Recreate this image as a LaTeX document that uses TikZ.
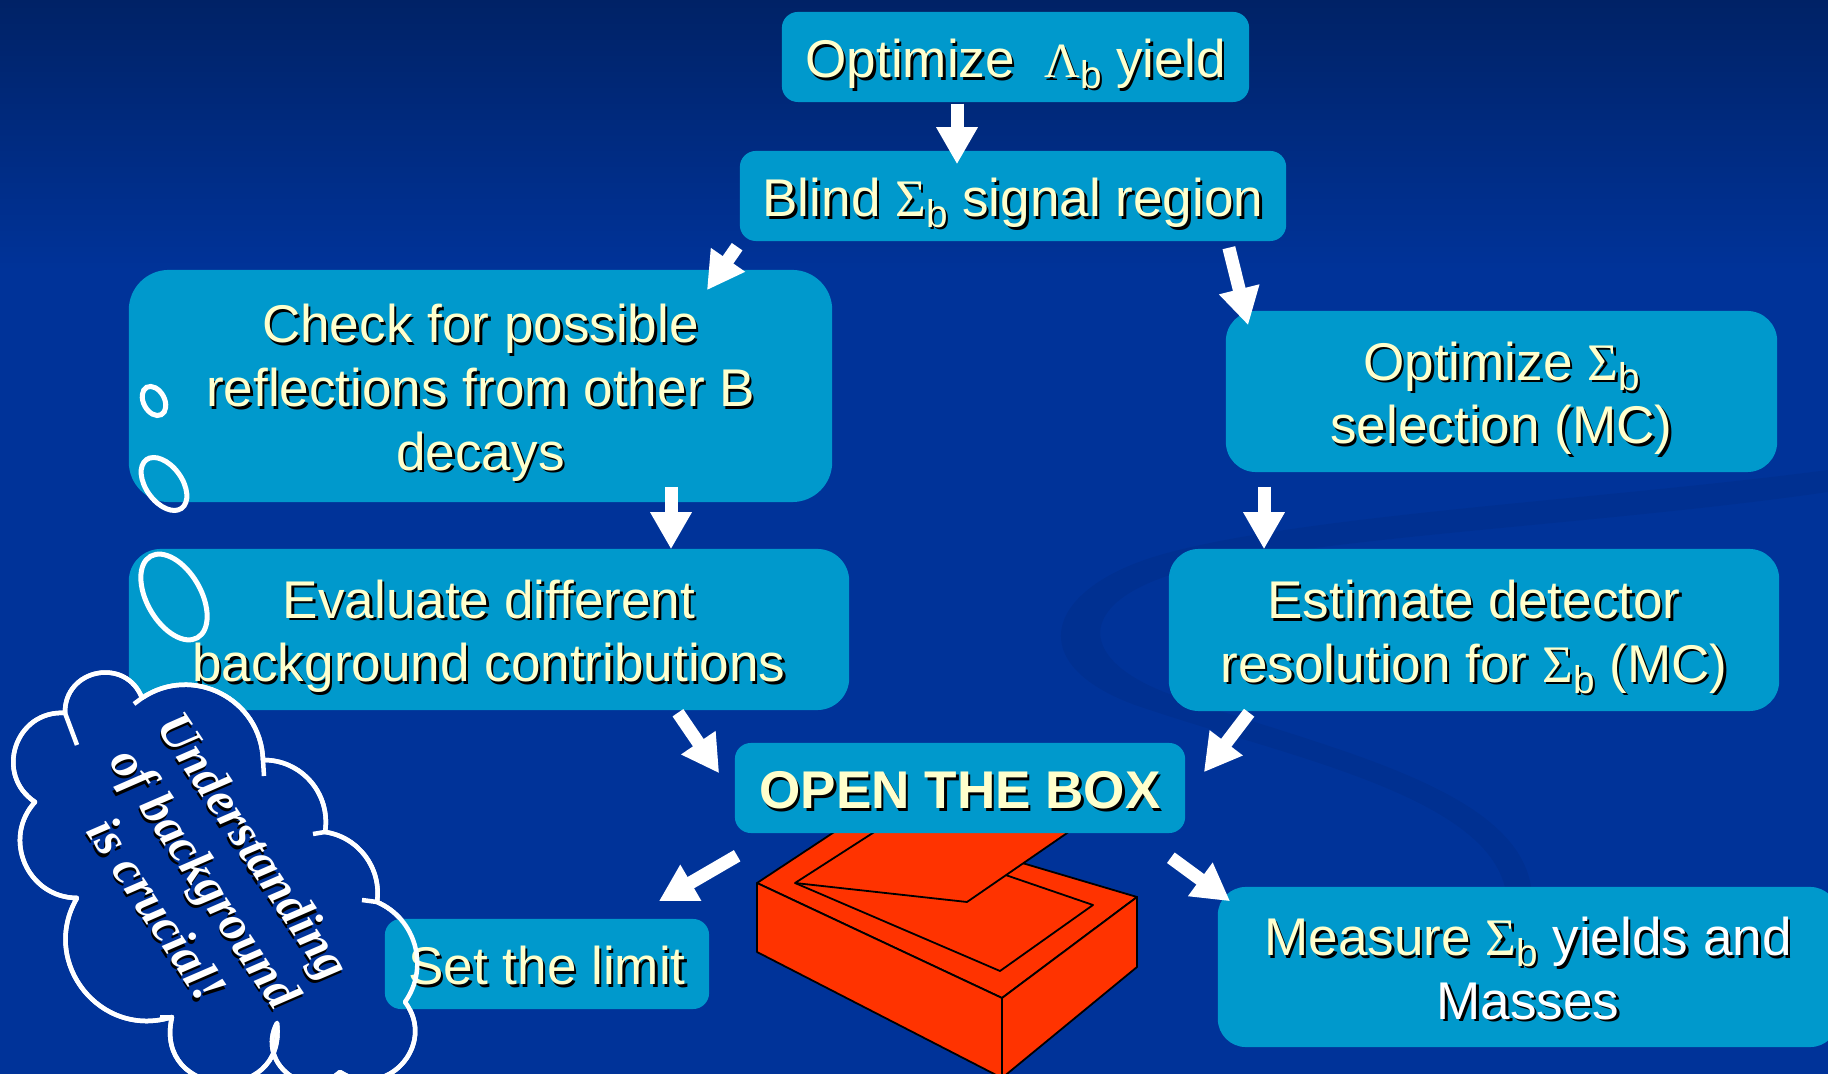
\documentclass[tikz,border=0pt]{standalone}
\usepackage{fontspec}
\setmainfont{Liberation Sans}
\newfontfamily\grkfont{Liberation Serif}
\newfontfamily\cloudfont{Liberation Serif}
\usetikzlibrary{arrows.meta,calc}

\definecolor{bgtop}{HTML}{002266}
\definecolor{bgmain}{HTML}{003399}
\definecolor{boxfill}{HTML}{0099CC}
\definecolor{txtyel}{HTML}{FFFFCC}
\definecolor{boxred}{HTML}{FF3300}

% text with a small black drop shadow
\newif\ifinshadow
\newcommand\sh[1]{\leavevmode\rlap{\kern0.7pt\raisebox{-0.7pt}{\inshadowtrue\color{black}#1}}#1}
\newcommand\wt[1]{\ifinshadow#1\else\textcolor{white}{#1}\fi}
\newcommand\Sg{{\grkfont\fontsize{15pt}{18pt}\selectfont Σ}}
\newcommand\Lm{{\grkfont\fontsize{14pt}{18pt}\selectfont Λ}}
\newcommand\sub[1]{\raisebox{-0.2em}{\fontsize{11pt}{12pt}\selectfont #1}}
\newcommand\boxfont{\fontsize{15.1pt}{18.1pt}\selectfont}
% struts that fix the height of the first and the depth of the last line
\newcommand\tp{\rule{0pt}{15.9pt}}
\newcommand\bt{\rule[-4.2pt]{0pt}{4.2pt}}

\tikzset{
  flow/.style={rectangle, fill=boxfill, rounded corners=#1, inner sep=0pt,
    align=center, text=txtyel, font=\boxfont},
  arr/.style={draw=white, line width=0.13cm,
    -{Triangle[length=0.37cm, width=0.39cm]}},
  cloudline/.style={draw=white, line width=0.045cm, line join=round},
  bubble/.style={draw=white, line width=0.05cm},
  cb/.code={\pgfmathsetmacro\cbl{1.7029/(1+cos(#1))}%
    \edef\cbtmp{\noexpand\pgfkeysalso{/tikz/bend left=#1,/tikz/looseness=\cbl}}\cbtmp},
}

\newcommand\cloudpath{(Q1) to[cb=80] (Q2) to[cb=61] (Q3) to[cb=50] (Q4)
  to[cb=45] (Q5) to[cb=51] (Q6) to[cb=80] (Q7) to[cb=80] (Q8)
  to[cb=100] (Q9) to[cb=69] (Q10) to[cb=66] (Q11) to[cb=75] (Q1)}

\begin{document}
\begin{tikzpicture}[x=0.01cm, y=-0.01cm]
\useasboundingbox (0,0) rectangle (1828,1074);

% background
\fill[bgmain] (0,0) rectangle (1828,1074);
\shade[top color=bgtop, bottom color=bgmain] (0,0) rectangle (1828,270);
\fill[black, opacity=0.05] (1507,900) .. controls (1500,800) and (1300,760) .. (1150,710)
  .. controls (1020,670) and (1040,590) .. (1160,555)
  .. controls (1300,515) and (1600,500) .. (1828,470) -- (1828,492)
  .. controls (1600,525) and (1310,537) .. (1180,572)
  .. controls (1075,602) and (1075,660) .. (1172,695)
  .. controls (1330,750) and (1532,790) .. (1532,900) -- cycle;

% the red box, lid opened
\begin{scope}[draw=black, line width=0.018cm, fill=boxred, line join=round]
  \filldraw (757,883) -- (1002,998) -- (1137,897) -- (860,815) -- cycle;
  \filldraw (757,883) -- (1002,998) -- (1002,1078) -- (757,952) -- cycle;
  \filldraw (1002,998) -- (1137,897) -- (1137,967) -- (1002,1078) -- cycle;
  \draw (795,883) -- (1000,971) -- (1093,905) -- (854,823);
  \filldraw (795,883) -- (967,902) -- (1086,820) -- (893,820) -- cycle;
\end{scope}

% flow boxes
\node[flow=0.16cm, minimum width=4.67cm, minimum height=0.90cm] (n1) at (1015.5,57)
  {\tp\sh{Optimize~~\Lm\sub{b} yield}\bt};
\node[flow=0.16cm, minimum width=5.46cm, minimum height=0.90cm] (n2) at (1013,196)
  {\tp\sh{Blind \Sg\sub{b} signal region}\bt};
\node[flow=0.40cm, minimum width=7.03cm, minimum height=2.32cm] (n3) at (480.5,386)
  {\tp\sh{Check for possible}\\\sh{reflections from other B}\\\sh{decays}\bt};
\node[flow=0.30cm, minimum width=5.51cm, minimum height=1.61cm] (n4) at (1501.5,391.5)
  {\tp\sh{Optimize \Sg\sub{b}}\\\sh{selection (MC)}\bt};
\node[flow=0.32cm, minimum width=7.20cm, minimum height=1.61cm] (n5) at (489,629.5)
  {\tp\sh{Evaluate different}\\\sh{background contributions}\bt};
\node[flow=0.30cm, minimum width=6.10cm, minimum height=1.62cm] (n6) at (1474,630)
  {\tp\sh{Estimate detector}\\\sh{resolution for \Sg\sub{b} (MC)}\bt};
\node[flow=0.16cm, minimum width=4.50cm, minimum height=0.90cm] (n7) at (960,788)
  {\tp\sh{\bfseries OPEN THE BOX}\bt};
\node[flow=0.28cm, minimum width=6.20cm, minimum height=1.60cm] (n9) at (1528,967)
  {\tp\sh{Measure \Sg\sub{b} \wt{yields and}}\\\sh{\wt{Masses}}\bt};

% thought bubbles
\draw[bubble, rotate around={28:(154,401)}] (154,401) ellipse [x radius=10.5, y radius=15.5];
\draw[bubble, rotate around={36:(164,484)}] (164,484) ellipse [x radius=18, y radius=30];
\draw[bubble, rotate around={30:(174,597)}] (174,597) ellipse [x radius=27, y radius=47];

% cloud
\coordinate (Q1) at (65,713);
\coordinate (Q2) at (142,698);
\coordinate (Q3) at (263,760);
\coordinate (Q4) at (325,832);
\coordinate (Q5) at (377,902);
\coordinate (Q6) at (405,1002);
\coordinate (Q7) at (340,1072);
\coordinate (Q8) at (277,1023);
\coordinate (Q9) at (172,1017);
\coordinate (Q10) at (77,898);
\coordinate (Q11) at (35,802);
\fill[bgmain] \cloudpath -- cycle;
\draw[cloudline] \cloudpath -- cycle;

\node[flow=0.16cm, minimum width=3.24cm, minimum height=0.90cm] (n8) at (547,964)
  {\tp\sh{Set the limit}\bt};

\draw[cloudline] \cloudpath -- cycle;
\draw[cloudline] (Q1) -- ++(12,32);
\draw[cloudline] (Q2) -- ++(-8,6);
\draw[cloudline] (Q3) -- ++(1,16);
\draw[cloudline] (Q4) -- ++(-12,2);
\draw[cloudline] (Q5) -- ++(-15,-2);
\draw[cloudline] (Q9) -- ++(-12,0);

\node[rotate=-56.5, align=center, text=white,
  font={\cloudfont\bfseries\itshape\fontsize{14.2pt}{16.5pt}\selectfont}] (note) at (205,878)
  {\sh{Understanding}\\\sh{of background}\\\sh{is crucial!}};

% connectors
\draw[arr] ($(n1.south)+(-58.5,1)$) -- ($(n2.north)+(-56,14)$);
\draw[arr] ($(n2.south west)+(-2,5)$) -- ($(n3.north east)+(-126,21)$);
\draw[arr] ($(n2.south east)+(-58,6)$) -- ($(n4.north west)+(23,15)$);
\draw[arr] ($(n3.south)+(190.5,-16)$) -- ($(n5.north)+(182,1)$);
\draw[arr] ($(n4.south)+(-237.5,14)$) -- ($(n6.north)+(-210,1)$);
\draw[arr] ($(n5.south east)+(-172,2)$) -- ($(n7.north west)+(-15,31)$);
\draw[arr] ($(n6.south west)+(81,1)$) -- ($(n7.north east)+(18,30)$);
\draw[arr] ($(n7.south west)+(3,22)$) -- ($(n8.north east)+(-51,-17)$);
\draw[arr] ($(n7.south east)+(-15,24)$) -- ($(n9.north west)+(13,15)$);
\end{tikzpicture}
\end{document}
